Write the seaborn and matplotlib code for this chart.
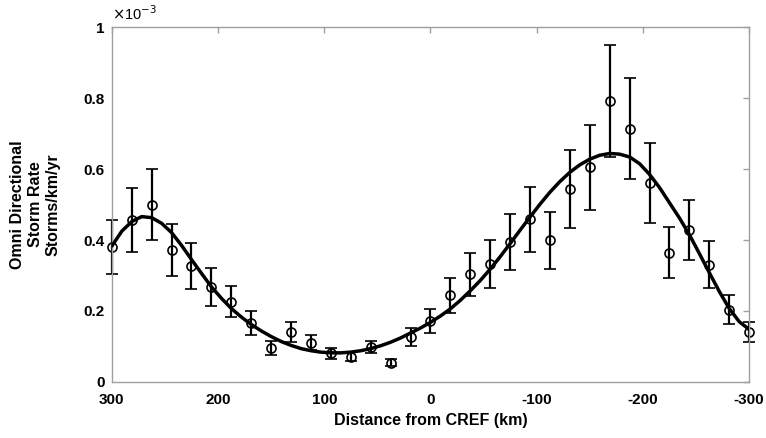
import matplotlib
matplotlib.use('Agg')
import matplotlib.pyplot as plt
import seaborn as sns
import numpy as np
import pandas as pd

# observed storm rates (x 1e-3 storms/km/yr) and error bar half-widths
dist = [300, 281.25, 262.5, 243.75, 225, 206.25, 187.5, 168.75, 150, 131.25,
        112.5, 93.75, 75, 56.25, 37.5, 18.75, 0, -18.75, -37.5, -56.25,
        -75, -93.75, -112.5, -131.25, -150, -168.75, -187.5, -206.25, -225,
        -243.75, -262.5, -281.25, -300]
rate = [0.380, 0.456, 0.500, 0.371, 0.327, 0.268, 0.226, 0.166, 0.096, 0.141,
        0.111, 0.081, 0.071, 0.099, 0.054, 0.127, 0.171, 0.244, 0.303, 0.332,
        0.395, 0.458, 0.399, 0.543, 0.605, 0.792, 0.714, 0.561, 0.364,
        0.428, 0.331, 0.204, 0.140]
err = [0.077, 0.090, 0.100, 0.073, 0.065, 0.053, 0.044, 0.033, 0.019, 0.028,
       0.021, 0.015, 0.013, 0.017, 0.010, 0.025, 0.034, 0.049, 0.060, 0.067,
       0.079, 0.092, 0.080, 0.110, 0.120, 0.157, 0.142, 0.112, 0.072,
       0.085, 0.066, 0.040, 0.028]

# fitted curve
fit_x = [300, 290.6, 281.25, 271.9, 262.5, 253.1, 243.75, 234.4, 225, 215.6,
         206.25, 196.9, 187.5, 178.1, 168.75, 159.4, 150, 140.6, 131.25, 121.9,
         112.5, 103.1, 93.75, 84.4, 75, 65.6, 56.25, 46.9, 37.5, 28.1,
         18.75, 9.4, 0, -9.4, -18.75, -28.1, -37.5, -46.9, -56.25, -65.6,
         -75, -84.4, -93.75, -103.1, -112.5, -121.9, -131.25, -140.6, -150, -159.4,
         -168.75, -178.1, -187.5, -196.9, -206.25, -215.6, -225, -234.4, -243.75, -253.1,
         -262.5, -271.9, -281.25, -290.6, -300]
fit_y = [0.383, 0.425, 0.452, 0.466, 0.463, 0.447, 0.421, 0.385, 0.345, 0.306,
         0.268, 0.236, 0.207, 0.183, 0.162, 0.144, 0.128, 0.114, 0.103, 0.094,
         0.088, 0.084, 0.082, 0.082, 0.084, 0.088, 0.094, 0.102, 0.112, 0.124,
         0.138, 0.152, 0.168, 0.186, 0.206, 0.230, 0.257, 0.286, 0.318, 0.353,
         0.390, 0.428, 0.465, 0.501, 0.535, 0.565, 0.591, 0.612, 0.628, 0.639,
         0.644, 0.642, 0.634, 0.615, 0.585, 0.548, 0.505, 0.462, 0.415, 0.362,
         0.308, 0.255, 0.207, 0.170, 0.148]

x_ticks = [300, 200, 100, 0, -100, -200, -300]
y_ticks = [0, 0.2, 0.4, 0.6, 0.8, 1.0]
y_tick_labels = ['0', '0.2', '0.4', '0.6', '0.8', '1']

sns.set_style("white")
plt.rcParams['font.family'] = ['Liberation Sans', 'DejaVu Sans']
plt.rcParams['text.color'] = 'black'
plt.rcParams['axes.labelcolor'] = 'black'

fig = plt.figure(figsize=(7.66, 4.38), dpi=100)
ax = fig.add_axes([0.146, 0.128, 0.832, 0.81])

fit_df = pd.DataFrame({'x': fit_x, 'y': fit_y})
sns.lineplot(data=fit_df, x='x', y='y', color='black', lw=2.5, sort=False,
             ax=ax, zorder=3)
eb = ax.errorbar(dist, rate, yerr=err, fmt='o', color='black', mfc='none',
                 mec='black', ms=6.5, mew=1.2, ecolor='black', elinewidth=1.6,
                 capsize=4.2, capthick=1.6, zorder=2)
for art in eb.lines[1] + eb.lines[2] + (eb.lines[0],):
    art.set_clip_on(False)

ax.set_xlim(300, -300)
ax.set_ylim(0, 1.0)
ax.set_xticks(x_ticks)
ax.set_xticklabels([str(t) for t in x_ticks])
ax.set_yticks(y_ticks)
ax.set_yticklabels(y_tick_labels)

for s in ax.spines.values():
    s.set_color('#a0a0a0')
    s.set_linewidth(1.0)
ax.tick_params(direction='in', length=4.5, width=1.0, color='#a0a0a0',
               labelcolor='black', top=True, right=True, labelsize=11)
ax.tick_params(axis='x', pad=8)
ax.tick_params(axis='y', pad=5)
for lab in ax.get_xticklabels() + ax.get_yticklabels():
    lab.set_fontweight('bold')

ax.set_xlabel('Distance from CREF (km)', fontsize=11.5, fontweight='bold',
              labelpad=4)
ax.set_ylabel('Omni Directional\nStorm Rate\nStorms/km/yr', fontsize=11.5,
              fontweight='bold', labelpad=17)
ax.text(0.0, 1.012, r'$\times$10$^{-3}$', transform=ax.transAxes,
        fontsize=10.5, ha='left', va='bottom')

fig.savefig('out.png', dpi=100)
